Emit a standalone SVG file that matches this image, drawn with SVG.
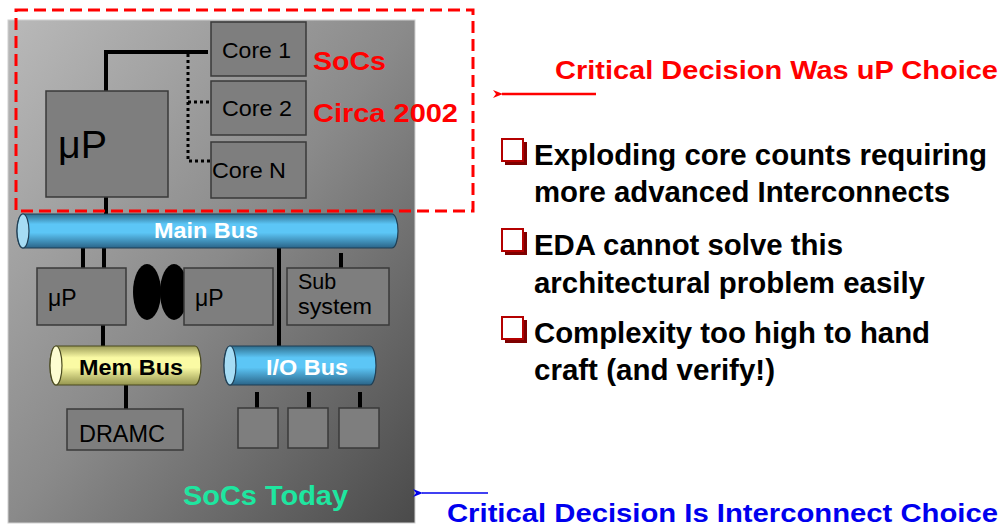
<svg xmlns="http://www.w3.org/2000/svg" width="1008" height="527" viewBox="0 0 1008 527">
<defs>
<linearGradient id="panelG" x1="0" y1="0" x2="1" y2="1">
<stop offset="0" stop-color="#b9b9b9"/>
<stop offset="0.5" stop-color="#8a8a8a"/>
<stop offset="1" stop-color="#4a4a4a"/>
</linearGradient>
<linearGradient id="blueG" x1="0" y1="0" x2="0" y2="1">
<stop offset="0" stop-color="#2f6d8c"/>
<stop offset="0.3" stop-color="#5cc6f6"/>
<stop offset="0.55" stop-color="#5cc6f6"/>
<stop offset="1" stop-color="#2a6488"/>
</linearGradient>
<linearGradient id="yellowG" x1="0" y1="0" x2="0" y2="1">
<stop offset="0" stop-color="#9c9c58"/>
<stop offset="0.3" stop-color="#fafaa4"/>
<stop offset="0.55" stop-color="#fafaa4"/>
<stop offset="1" stop-color="#95954f"/>
</linearGradient>
<marker id="arrR" markerWidth="10" markerHeight="8" refX="1" refY="4" orient="auto" markerUnits="userSpaceOnUse">
<path d="M10,0 L0,4 L10,8 L7,4 Z" fill="#ff0000"/>
</marker>
<marker id="arrB" markerWidth="10" markerHeight="8" refX="1" refY="4" orient="auto" markerUnits="userSpaceOnUse">
<path d="M10,0 L0,4 L10,8 L7,4 Z" fill="#0000ee"/>
</marker>
<g id="bulletBox">
<rect x="4" y="4" width="22" height="23" fill="#7e0000"/>
<rect x="1" y="1" width="21" height="22" fill="#ffffff" stroke="#b40000" stroke-width="2"/>
</g>
</defs>
<style>
.box{fill:#7e7e7e;stroke:#3a3a3a;stroke-width:1.5}
.wire{stroke:#000;stroke-width:4;fill:none}
.dot{stroke:#000;stroke-width:3;stroke-dasharray:3 3;fill:none}
.lbl{font-family:"Liberation Sans",Arial,sans-serif;fill:#000}
.bold{font-family:"Liberation Sans",Arial,sans-serif;font-weight:bold}
.cylB{fill:url(#blueG);stroke:#1f3f55;stroke-width:1.2}
.cylY{fill:url(#yellowG);stroke:#4a4a20;stroke-width:1.2}
.bul{font-family:"Liberation Sans",Arial,sans-serif;font-weight:bold;font-size:29px;fill:#000}
</style>
<rect width="1008" height="527" fill="#ffffff"/>
<g id="panel">
<rect x="8" y="20" width="407" height="503" fill="url(#panelG)" stroke="#d0d0d0" stroke-width="1"/>
</g>
<g id="connectors">
<path class="wire" d="M106,91 V52 H208"/>
<path class="dot" d="M188,54 V161 H210 M188,102 H211"/>
<path class="wire" d="M106,197 V214"/>
<path class="wire" d="M83,248 V268 M104,248 V268"/>
<path class="wire" d="M279,248 V349"/>
<path class="wire" d="M341,253 V268"/>
<path class="wire" d="M103,325 V346"/>
<path class="wire" d="M126,385 V409"/>
<path class="wire" d="M257,392 V408 M309,392 V408 M360,392 V408"/>
<line x1="596" y1="94" x2="502" y2="94" stroke="#ff0000" stroke-width="2.5" marker-end="url(#arrR)"/>
<line x1="488" y1="493" x2="422" y2="493" stroke="#0000ee" stroke-width="1.5" marker-end="url(#arrB)"/>
</g>
<g id="core1"><rect class="box" x="211" y="22" width="95" height="54"/><text class="lbl" x="222" y="58" font-size="22.5" textLength="69" lengthAdjust="spacingAndGlyphs">Core 1</text></g>
<g id="core2"><rect class="box" x="211" y="81" width="95" height="54"/><text class="lbl" x="222" y="116" font-size="22.5" textLength="70" lengthAdjust="spacingAndGlyphs">Core 2</text></g>
<g id="coreN"><rect class="box" x="211" y="142" width="95" height="56"/><text class="lbl" x="212" y="178" font-size="22.5" textLength="74" lengthAdjust="spacingAndGlyphs">Core N</text></g>
<g id="up-main"><rect class="box" x="46" y="91" width="122" height="106"/><text class="lbl" x="58" y="158" font-size="38" textLength="49" lengthAdjust="spacingAndGlyphs">μP</text></g>
<g id="main-bus">
<path class="cylB" d="M23,214 H392 A6,17 0 0 1 392,248 H23 A6,17 0 0 1 23,214 Z"/>
<ellipse cx="23" cy="231" rx="6" ry="17" fill="#a6dcf4" stroke="#1f3f55" stroke-width="1.2"/>
<text class="bold" x="154" y="238" font-size="22" fill="#ffffff" textLength="104" lengthAdjust="spacingAndGlyphs">Main Bus</text>
</g>
<g id="up-left"><rect class="box" x="37" y="268" width="89" height="57"/><text class="lbl" x="48" y="306" font-size="23">μP</text></g>
<g id="links">
<ellipse cx="147" cy="292" rx="14" ry="28" fill="#000"/>
<ellipse cx="174" cy="292" rx="14" ry="28" fill="#000"/>
</g>
<g id="up-right"><rect class="box" x="184" y="268" width="89" height="57"/><text class="lbl" x="195" y="306" font-size="23">μP</text></g>
<g id="subsystem"><rect class="box" x="287" y="268" width="102" height="57"/><text class="lbl" x="298" y="289" font-size="21.5">Sub</text><text class="lbl" x="298" y="314" font-size="21.5" textLength="74" lengthAdjust="spacingAndGlyphs">system</text></g>
<g id="mem-bus">
<path class="cylY" d="M56,346 H195 A6,19.5 0 0 1 195,385 H56 A6,19.5 0 0 1 56,346 Z"/>
<ellipse cx="56" cy="365.5" rx="6" ry="19.5" fill="#fdfdd2" stroke="#4a4a20" stroke-width="1.2"/>
<text class="bold" x="79" y="375" font-size="22" fill="#000" textLength="104" lengthAdjust="spacingAndGlyphs">Mem Bus</text>
</g>
<g id="io-bus">
<path class="cylB" d="M230,346 H370 A6,19.5 0 0 1 370,385 H230 A6,19.5 0 0 1 230,346 Z"/>
<ellipse cx="230" cy="365.5" rx="6" ry="19.5" fill="#a6dcf4" stroke="#1f3f55" stroke-width="1.2"/>
<text class="bold" x="266" y="375" font-size="22" fill="#ffffff" textLength="82" lengthAdjust="spacingAndGlyphs">I/O Bus</text>
</g>
<g id="dramc"><rect class="box" x="67" y="409" width="116" height="41"/><text class="lbl" x="79" y="442" font-size="23.5" textLength="86" lengthAdjust="spacingAndGlyphs">DRAMC</text></g>
<g id="io1"><rect class="box" x="238" y="408" width="40" height="40"/></g>
<g id="io2"><rect class="box" x="288" y="408" width="40" height="40"/></g>
<g id="io3"><rect class="box" x="339" y="408" width="40" height="40"/></g>
<g id="soc2002">
<rect x="16" y="10" width="457" height="201" fill="none" stroke="#ff0000" stroke-width="3" stroke-dasharray="12 6"/>
<text class="bold" x="313" y="70" font-size="25" fill="#ff0000" textLength="73" lengthAdjust="spacingAndGlyphs">SoCs</text>
<text class="bold" x="313" y="122" font-size="25" fill="#ff0000" textLength="145" lengthAdjust="spacingAndGlyphs">Circa 2002</text>
</g>
<g id="soc-today"><text class="bold" x="183" y="505" font-size="27" fill="#1ee6a0" textLength="165" lengthAdjust="spacingAndGlyphs">SoCs Today</text></g>
<g id="captions">
<text class="bold" x="555" y="79" font-size="26.5" fill="#ff0000" textLength="443" lengthAdjust="spacingAndGlyphs">Critical Decision Was uP Choice</text>
<text class="bold" x="447" y="522" font-size="25.5" fill="#0000ee" textLength="551" lengthAdjust="spacingAndGlyphs">Critical Decision Is Interconnect Choice</text>
</g>
<g id="bullets">
<use href="#bulletBox" x="501" y="138"/>
<use href="#bulletBox" x="501" y="228"/>
<use href="#bulletBox" x="501" y="316"/>
<text class="bul" x="534" y="165" textLength="453" lengthAdjust="spacingAndGlyphs">Exploding core counts requiring</text>
<text class="bul" x="534" y="202" textLength="416" lengthAdjust="spacingAndGlyphs">more advanced Interconnects</text>
<text class="bul" x="534" y="255" textLength="309" lengthAdjust="spacingAndGlyphs">EDA cannot solve this</text>
<text class="bul" x="534" y="293" textLength="391" lengthAdjust="spacingAndGlyphs">architectural problem easily</text>
<text class="bul" x="534" y="343" textLength="396" lengthAdjust="spacingAndGlyphs">Complexity too high to hand</text>
<text class="bul" x="534" y="380" textLength="241" lengthAdjust="spacingAndGlyphs">craft (and verify!)</text>
</g>
</svg>
